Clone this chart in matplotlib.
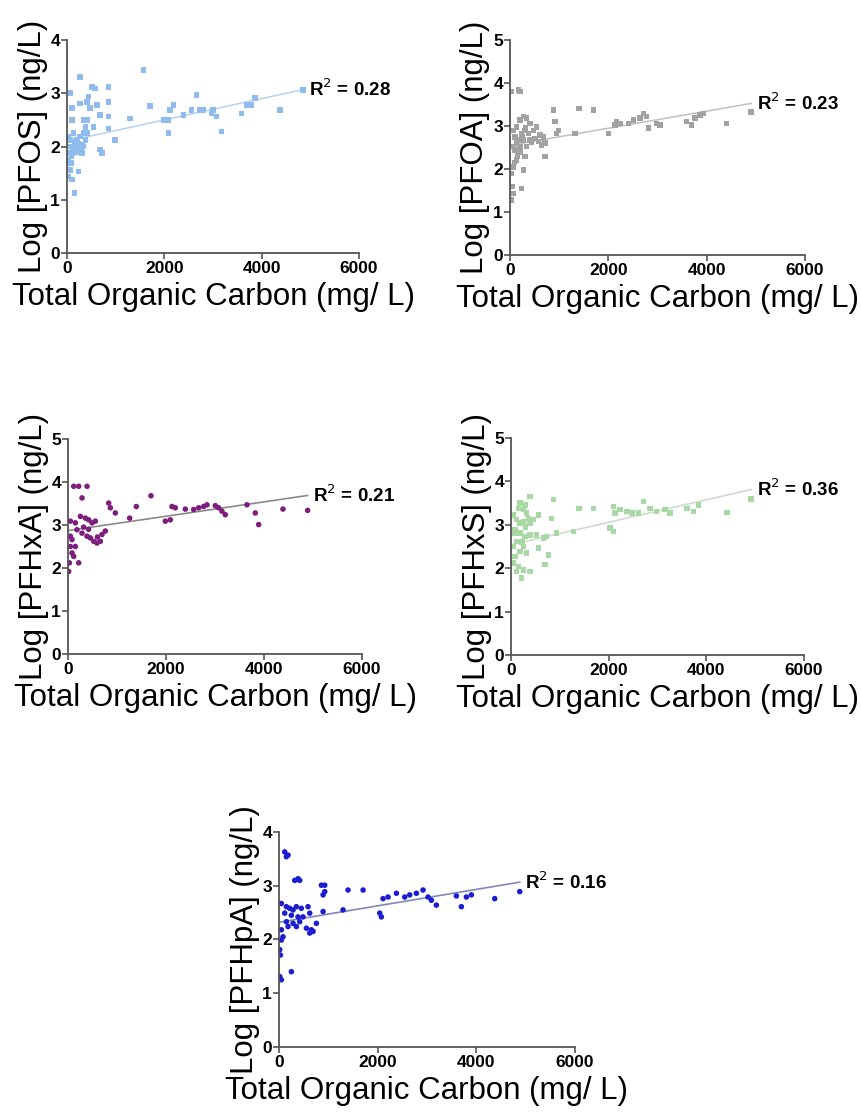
import matplotlib
matplotlib.use("Agg")
import matplotlib.pyplot as plt
import numpy as np

plt.rcParams.update({
    'font.family': ['Liberation Sans', 'DejaVu Sans'],
    'axes.linewidth': 1.3,
    'axes.edgecolor': '#555555',
    'axes.spines.top': False,
    'axes.spines.right': False,
    'xtick.major.size': 4,
    'ytick.major.size': 4,
    'xtick.major.width': 1.2,
    'ytick.major.width': 1.2,
    'xtick.color': '#555555',
    'ytick.color': '#555555',
})

# ---- data (TOC in mg/L, log conc in ng/L) ----
pfos_toc = [273, 1571, 68, 444, 512, 580, 854, 854, 410, 273, 102, 478, 615, 683, 854, 341,
            376, 546, 854, 102, 990, 683, 717, 1298, 1708, 1981, 2083, 2117, 2083, 2186, 2391,
            2562, 2664, 2732, 2800, 2971, 3005, 3073, 3176, 3586, 3688, 3791, 3859, 4371, 4849,
            34, 68, 102, 137, 171, 205, 239, 273, 307, 341, 376, 410, 376, 410, 34, 68, 34,
            102, 239, 150, 34, 82, 307, 205, 273, 341, 137, 68, 120, 190, 230, 300, 160, 90]
pfos_log = [3.31, 3.44, 3.00, 2.94, 3.12, 3.09, 3.12, 2.84, 2.84, 2.81, 2.72, 2.72, 2.78, 2.59, 2.56, 2.50,
            2.37, 2.37, 2.34, 2.50, 2.12, 1.94, 1.88, 2.53, 2.76, 2.50, 2.50, 2.69, 2.25, 2.78, 2.59,
            2.69, 2.97, 2.69, 2.69, 2.62, 2.69, 2.56, 2.28, 2.62, 2.78, 2.78, 2.91, 2.69, 3.06,
            2.19, 2.00, 1.88, 1.94, 2.00, 1.97, 2.06, 1.94, 2.03, 2.00, 2.12, 2.25, 2.37, 2.50, 1.75, 1.56, 1.44,
            1.38, 1.53, 1.13, 1.88, 1.69, 1.88, 2.12, 2.19, 2.25, 2.25, 2.12, 1.95, 1.90, 2.05, 1.98, 2.08, 1.82]

pfoa_toc = [170, 34, 203, 881, 915, 1403, 1695, 949, 983, 1322, 2000, 2136, 2170, 2237, 2407, 2508,
            2644, 2712, 2780, 2814, 2983, 3051, 3593, 3695, 3763, 3864, 3932, 4407, 4902,
            68, 136, 203, 271, 339, 407, 542, 610, 678, 712, 644, 508, 407, 339, 305, 712, 203,
            136, 68, 271, 237, 34, 54, 34, 68, 102, 170, 237, 305, 373, 136, 203, 271, 68, 102,
            475, 576, 150, 250, 90, 320, 440]
pfoa_log = [3.84, 3.80, 3.80, 3.37, 3.10, 3.41, 3.37, 2.83, 2.90, 2.83, 2.83, 3.02, 3.10, 3.06, 3.06, 3.14,
            3.18, 3.29, 3.22, 2.95, 3.06, 3.02, 3.10, 3.02, 3.18, 3.26, 3.29, 3.06, 3.33,
            2.90, 2.98, 3.14, 3.22, 3.18, 3.06, 2.98, 2.79, 2.75, 2.60, 2.56, 2.71, 2.67, 2.52, 2.29, 2.29, 2.40,
            2.21, 2.05, 1.98, 1.55, 1.90, 1.59, 1.28, 1.43, 2.44, 2.67, 2.83, 2.90, 2.83, 2.60, 2.52, 2.67, 2.52, 2.75,
            2.90, 2.64, 2.30, 2.75, 2.15, 2.95, 2.62]

pfhxa_toc = [116, 218, 388, 286, 48, 150, 252, 354, 422, 490, 558, 184, 286, 388, 456, 524, 592, 660,
             694, 762, 82, 48, 82, 27, 14, 218, 116, 48, 150, 830, 864, 966, 1258, 1394, 1693, 1986,
             2088, 2122, 2190, 2394, 2564, 2666, 2768, 2836, 3006, 3074, 3142, 3210, 3652, 3822,
             3890, 4386, 4889, 320, 420, 600]
pfhxa_log = [3.90, 3.90, 3.90, 3.63, 3.09, 3.05, 3.20, 3.16, 3.12, 3.05, 3.09, 2.89, 2.81, 2.74, 2.70, 2.62, 2.58, 2.62,
             2.78, 2.86, 2.66, 2.50, 2.35, 2.12, 1.92, 2.12, 2.27, 2.74, 2.50, 3.51, 3.40, 3.28, 3.16, 3.43, 3.68, 3.09,
             3.12, 3.43, 3.40, 3.37, 3.36, 3.40, 3.43, 3.47, 3.45, 3.40, 3.32, 3.24, 3.47, 3.28,
             3.01, 3.37, 3.34, 2.95, 2.90, 2.72]

pfhxs_toc = [389, 184, 287, 150, 253, 321, 48, 116, 184, 253, 355, 389, 458, 560, 833, 867,
             82, 184, 287, 389, 116, 253, 48, 184, 321, 82, 48, 150, 253, 116, 218, 389, 697, 765, 560,
             526, 662, 731, 935, 1277, 1393, 1687, 2028, 2097, 2097, 2131, 2233, 2370, 2473, 2609,
             2711, 2848, 2984, 3155, 3257, 3599, 3736, 3838, 4419, 4918, 220, 300, 60]
pfhxs_log = [3.65, 3.50, 3.46, 3.38, 3.35, 3.27, 3.23, 3.12, 3.04, 3.08, 3.15, 3.04, 3.12, 3.23, 3.15, 3.58,
             2.88, 2.81, 2.73, 2.77, 2.62, 2.50, 2.50, 2.38, 2.35, 2.27, 2.12, 2.04, 1.96, 1.92, 1.77, 1.92, 2.08, 2.31, 2.46,
             2.77, 2.69, 2.73, 2.81, 2.85, 3.38, 3.38, 2.92, 2.85, 3.42, 3.27, 3.35, 3.31, 3.27, 3.27,
             3.54, 3.38, 3.31, 3.35, 3.27, 3.38, 3.31, 3.46, 3.28, 3.59, 2.60, 2.95, 2.80]

pfhpa_toc = [115, 183, 149, 385, 318, 419, 859, 927, 893, 927, 1399, 1704, 47, 149, 216, 284, 352,
             453, 588, 115, 250, 385, 487, 622, 149, 284, 419, 555, 656, 690, 757, 622, 47, 47, 14,
             27, 81, 183, 14, 47, 250, 352, 893, 1298, 2042, 2075, 2109, 2211, 2380, 2549, 2650,
             2785, 2920, 3021, 3089, 3190, 3596, 3697, 3799, 3900, 4373, 4881]
pfhpa_log = [3.63, 3.57, 3.54, 3.13, 3.10, 3.10, 3.01, 2.89, 2.83, 3.01, 2.92, 2.92, 2.67, 2.61, 2.58, 2.55, 2.61,
             2.58, 2.61, 2.49, 2.45, 2.42, 2.42, 2.49, 2.33, 2.30, 2.33, 2.21, 2.18, 2.15, 2.30, 2.12, 2.18, 1.99, 1.81,
             1.71, 2.05, 2.24, 1.31, 1.25, 1.40, 2.24, 2.52, 2.55, 2.49, 2.42, 2.76, 2.79, 2.86, 2.79, 2.83,
             2.86, 2.92, 2.79, 2.73, 2.64, 2.81, 2.61, 2.79, 2.83, 2.76, 2.89]

# regression line (slope, intercept) and R^2 as printed on the figure
fit_slope = [0.000200, 0.000199, 0.000167, 0.000259, 0.000153]
fit_intercept = [2.10, 2.55, 2.87, 2.54, 2.32]
fit_r2 = ['0.28', '0.23', '0.21', '0.36', '0.16']

names = ['PFOS', 'PFOA', 'PFHxA', 'PFHxS', 'PFHpA']
toc_data = [pfos_toc, pfoa_toc, pfhxa_toc, pfhxs_toc, pfhpa_toc]
log_data = [pfos_log, pfoa_log, pfhxa_log, pfhxs_log, pfhpa_log]
y_max = [4, 5, 5, 5, 4]
point_colors = ['#8fbcec', '#a2a2a2', '#7d1d7d', '#a8d8a4', '#1c1cd0']
line_colors = ['#b9d4ef', '#c4c4c4', '#8a8a8a', '#cfdccf', '#7f88b8']
markers = ['s', 's', 'o', 's', 'o']

# axes boxes in figure fractions [left, bottom, width, height]
boxes = [
    [0.0777, 0.7725, 0.3388, 0.1915],
    [0.5916, 0.7707, 0.3423, 0.1933],
    [0.0789, 0.4119, 0.3411, 0.1933],
    [0.5928, 0.4110, 0.3399, 0.1951],
    [0.3237, 0.0585, 0.3433, 0.1933],
]

fig = plt.figure(figsize=(8.62, 11.12), dpi=100)

for i in range(5):
    ax = fig.add_axes(boxes[i])
    x = np.array(toc_data[i])
    y = np.array(log_data[i])

    xs = np.array([x.min(), x.max()])
    ys = fit_slope[i] * xs + fit_intercept[i]
    ax.plot(xs, ys, color=line_colors[i], lw=1.2, zorder=1)
    ax.scatter(x, y, s=16, marker=markers[i], color=point_colors[i], edgecolors='none', zorder=2)

    ax.annotate(f"R$^2$ = {fit_r2[i]}", xy=(xs[1], ys[1]), xytext=(4, 0),
                textcoords='offset points', ha='left', va='center',
                fontsize=13.5, fontweight='bold', color='black')

    ax.set_xlim(0, 6000)
    ax.set_ylim(0, y_max[i])
    ax.set_xticks([0, 2000, 4000, 6000])
    ax.set_yticks(range(0, y_max[i] + 1))
    ax.spines['left'].set_bounds(0, y_max[i])
    for lab in ax.get_xticklabels() + ax.get_yticklabels():
        lab.set_fontweight('bold')
        lab.set_fontsize(12.5)
        lab.set_color('black')
    ax.tick_params(axis='x', pad=2)
    ax.tick_params(axis='y', pad=1)

    ax.set_xlabel('Total Organic Carbon (mg/ L)', fontsize=22.5, labelpad=4)
    ax.set_ylabel(f'Log [{names[i]}] (ng/L)', fontsize=22.5, labelpad=2)

fig.savefig('out.png', dpi=100)
